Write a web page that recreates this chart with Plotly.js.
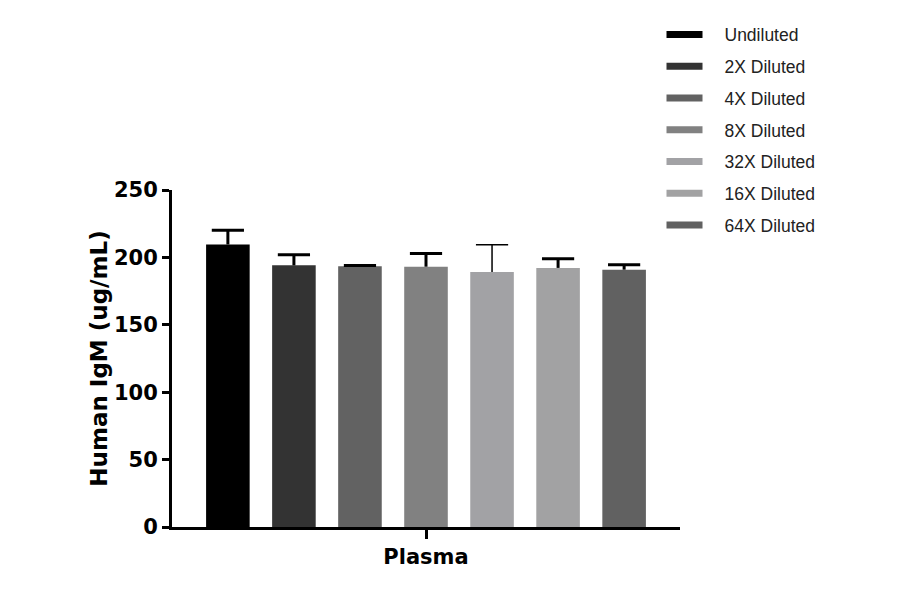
<!DOCTYPE html>
<html>
<head>
<meta charset="utf-8">
<script src="https://cdn.plot.ly/plotly-3.0.1.min.js"></script>
<style>
  html, body { margin: 0; padding: 0; background: #fff; }
  #chart { width: 900px; height: 594px; }
</style>
</head>
<body>
<div id="chart"></div>
<script>
// values
const categories = ['Plasma'];
const seriesNames = ['Undiluted', '2X Diluted', '4X Diluted', '8X Diluted', '32X Diluted', '16X Diluted', '64X Diluted'];
const means = [209.6, 194.1, 193.4, 193.1, 189.2, 192.2, 190.9];
const errors = [10.5, 7.9, 0.5, 9.8, 20.1, 6.8, 3.7];
const yTicks = [0, 50, 100, 150, 200, 250];

const barColors = ['#000000', '#333333', '#626262', '#818181', '#a2a2a5', '#a2a2a3', '#616161'];
const errThickness = [3, 3, 3, 3, 1.5, 3, 3];

const boldFont = '"DejaVu Sans", Lato, sans-serif';

const traces = [];
seriesNames.forEach((name, i) => {
    // bar with the upper error whisker (no caps here)
    traces.push({
        type: 'bar',
        x: categories,
        y: [means[i]],
        name: name,
        showlegend: false,
        offsetgroup: 'g' + i,
        marker: { color: barColors[i], line: { width: 0 } },
        error_y: {
            type: 'data',
            symmetric: false,
            array: [errors[i]],
            arrayminus: [0],
            color: '#000',
            thickness: errThickness[i],
            width: 0
        }
    });
    // cap on top of the whisker only (one-sided, like Prism)
    traces.push({
        type: 'scatter',
        mode: 'markers',
        x: categories,
        y: [means[i] + errors[i]],
        showlegend: false,
        offsetgroup: 'g' + i,
        marker: {
            symbol: 'line-ew-open',
            size: 23,
            color: '#000',
            line: { color: '#000', width: errThickness[i] }
        },
        hoverinfo: 'skip'
    });
});
// legend entries drawn as short thick strokes, like the original
seriesNames.forEach((name, i) => {
    traces.push({
        type: 'scatter',
        mode: 'lines',
        x: [null],
        y: [null],
        name: name,
        legendgroup: 'l' + i,
        offsetgroup: 'g' + i,
        line: { color: barColors[i], width: 7, dash: '36px,200px' },
        hoverinfo: 'skip'
    });
});

const layout = {
    width: 900,
    height: 594,
    margin: { l: 172, r: 220, t: 190, b: 67, autoexpand: false },
    paper_bgcolor: '#fff',
    plot_bgcolor: '#fff',
    barmode: 'group',
    bargap: 0.09,
    bargroupgap: 0.34,
    scattermode: 'group',
    scattergap: 0.09,
    font: { family: boldFont, color: '#000' },
    xaxis: {
        type: 'category',
        showline: true,
        linecolor: '#000',
        linewidth: 3,
        ticks: 'outside',
        ticklen: 9,
        tickwidth: 3,
        tickcolor: '#000',
        tickfont: { size: 21, weight: 'bold', family: boldFont },
        showgrid: false,
        zeroline: false,
        fixedrange: true
    },
    yaxis: {
        range: [0, 250],
        tickvals: yTicks,
        showline: true,
        linecolor: '#000',
        linewidth: 3,
        ticks: 'outside',
        ticklen: 7,
        tickwidth: 3,
        tickcolor: '#000',
        tickfont: { size: 21, weight: 'bold', family: boldFont },
        showgrid: false,
        zeroline: false,
        title: { text: 'Human IgM (ug/mL)', font: { size: 23, weight: 'bold', family: boldFont }, standoff: 0 },
        fixedrange: true
    },
    showlegend: true,
    legend: {
        xref: 'container',
        yref: 'container',
        x: 0.735,
        xanchor: 'left',
        y: 0.972,
        yanchor: 'top',
        font: { family: '"Liberation Sans", Arial, sans-serif', size: 17.5, color: '#222' },
        itemwidth: 53,
        tracegroupgap: 6,
        traceorder: 'grouped',
        bgcolor: 'rgba(0,0,0,0)'
    }
};

Plotly.newPlot('chart', traces, layout, { displayModeBar: false, staticPlot: true });
</script>
</body>
</html>
